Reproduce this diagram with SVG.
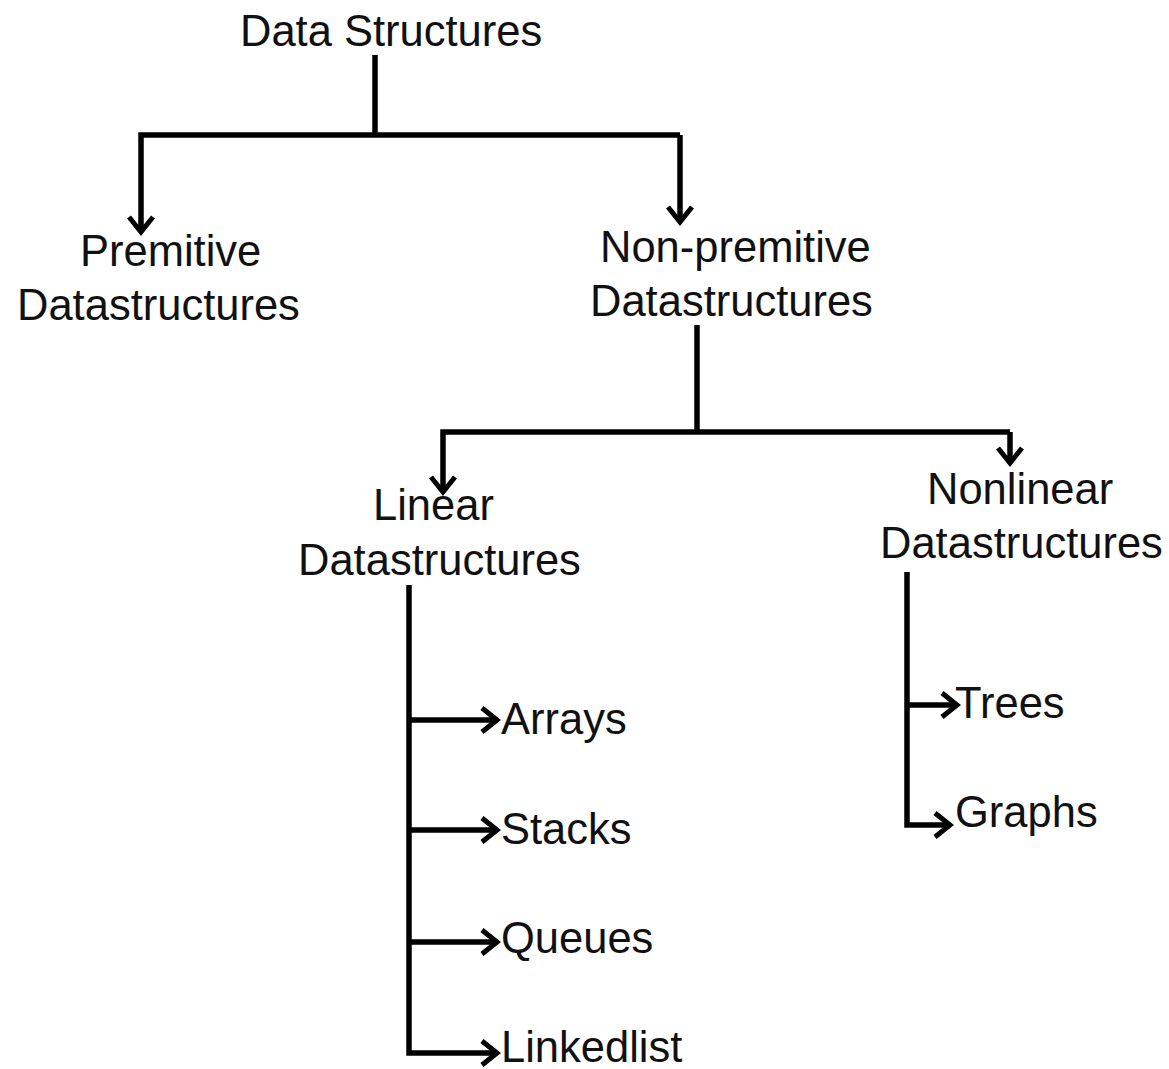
<svg xmlns="http://www.w3.org/2000/svg" width="1169" height="1069" viewBox="0 0 1169 1069">
<style>
text{font-family:"Liberation Sans",Arial,sans-serif;font-size:43.5px;fill:#111}
.c{fill:none;stroke:#000;stroke-width:5.5;stroke-linejoin:miter}
</style>
<defs>
<marker id="ah" viewBox="0 0 22 28" refX="18" refY="14" markerWidth="22" markerHeight="28" markerUnits="userSpaceOnUse" orient="auto">
<path d="M3,2 L18,14 L3,26" fill="none" stroke="#000" stroke-width="5"/>
</marker>
</defs>
<rect width="1169" height="1069" fill="#fff"/>
<g id="connectors">
<path class="c" d="M375,55 V135"/>
<path class="c" d="M680,135 H141 V232" marker-end="url(#ah)"/>
<path class="c" d="M680,135 V222" marker-end="url(#ah)"/>
<path class="c" d="M697,325 V432"/>
<path class="c" d="M1010,432 H443 V492" marker-end="url(#ah)"/>
<path class="c" d="M1010,432 V463" marker-end="url(#ah)"/>
<path class="c" d="M409,585 V1053 H497" marker-end="url(#ah)"/>
<path class="c" d="M409,720 H497" marker-end="url(#ah)"/>
<path class="c" d="M409,830 H497" marker-end="url(#ah)"/>
<path class="c" d="M409,942 H497" marker-end="url(#ah)"/>
<path class="c" d="M907,572 V825 H950" marker-end="url(#ah)"/>
<path class="c" d="M907,705 H957" marker-end="url(#ah)"/>
</g>
<g id="data-structures"><text x="240" y="46">Data Structures</text></g>
<g id="premitive"><text x="80" y="266">Premitive</text><text x="17" y="320">Datastructures</text></g>
<g id="non-premitive"><text x="600" y="262">Non-premitive</text><text x="590" y="316">Datastructures</text></g>
<g id="linear"><text x="373" y="520">Linear</text><text x="298" y="575">Datastructures</text></g>
<g id="nonlinear"><text x="927" y="504">Nonlinear</text><text x="880" y="558">Datastructures</text></g>
<g id="arrays"><text x="501" y="734">Arrays</text></g>
<g id="stacks"><text x="501" y="844">Stacks</text></g>
<g id="queues"><text x="501" y="953">Queues</text></g>
<g id="linkedlist"><text x="501" y="1062">Linkedlist</text></g>
<g id="trees"><text x="955" y="718">Trees</text></g>
<g id="graphs"><text x="955" y="827">Graphs</text></g>
</svg>
